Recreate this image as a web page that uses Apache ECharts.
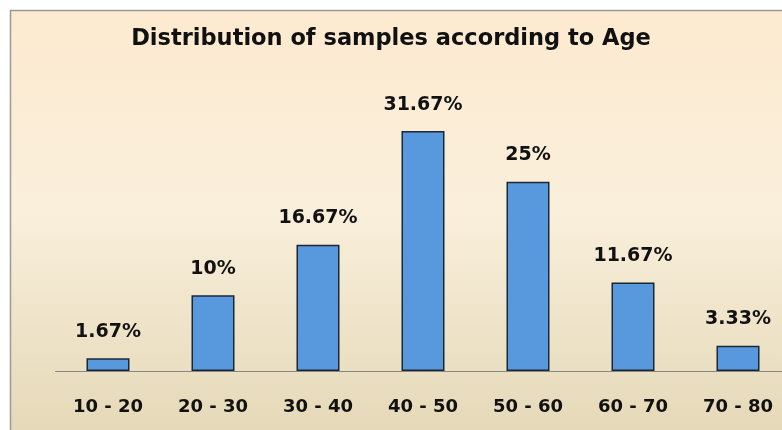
<!DOCTYPE html>
<html>
<head>
<meta charset="utf-8">
<script src="https://cdn.jsdelivr.net/npm/echarts@6/dist/echarts.min.js"></script>
<style>html,body{margin:0;padding:0;background:#fff;}#c{width:782px;height:430px;}</style>
</head>
<body>
<div id="c"></div>
<script>
var titleText = 'Distribution of samples according to Age';
var categories = ['10 - 20', '20 - 30', '30 - 40', '40 - 50', '50 - 60', '60 - 70', '70 - 80'];
var percentValues = [1.67, 10, 16.67, 31.67, 25, 11.67, 3.33];

var chart = echarts.init(document.getElementById('c'), null, {renderer: 'canvas'});
var font = '"DejaVu Sans", sans-serif';
chart.setOption({
  backgroundColor: '#ffffff',
  animation: false,
  graphic: [{
    type: 'rect',
    z: -10,
    shape: {x: 10.5, y: 10.5, width: 800, height: 450},
    style: {
      fill: {
        type: 'linear', x: 0, y: 0, x2: 0, y2: 1,
        colorStops: [
          {offset: 0, color: '#fdead0'},
          {offset: 0.45, color: '#f9efdb'},
          {offset: 1, color: '#e2d6b3'}
        ]
      },
      stroke: '#9a9a9a',
      lineWidth: 1.5
    }
  }],
  title: {
    text: titleText,
    left: 'center',
    top: 23,
    textStyle: {fontFamily: font, fontWeight: 'bold', fontSize: 22.5, color: '#111'}
  },
  grid: {left: 55.5, top: 68, width: 735, height: 303, outerBoundsMode: 'none', containLabel: false},
  xAxis: {
    type: 'category',
    data: categories,
    axisLine: {lineStyle: {color: '#868686', width: 1}},
    axisTick: {show: false},
    axisLabel: {fontFamily: font, fontWeight: 'bold', fontSize: 18, color: '#111', margin: 27}
  },
  yAxis: {
    type: 'value',
    min: 0, max: 40,
    show: false,
    splitLine: {show: false}
  },
  series: [{
    type: 'bar',
    data: percentValues,
    barWidth: 43,
    itemStyle: {color: '#5898dc', borderColor: '#1d2633', borderWidth: 1.5},
    label: {
      show: true,
      position: 'top',
      distance: 17,
      fontFamily: font,
      fontWeight: 'bold',
      fontSize: 19,
      color: '#111',
      formatter: function (p) { return p.value + '%'; }
    }
  }]
});
</script>
</body>
</html>
